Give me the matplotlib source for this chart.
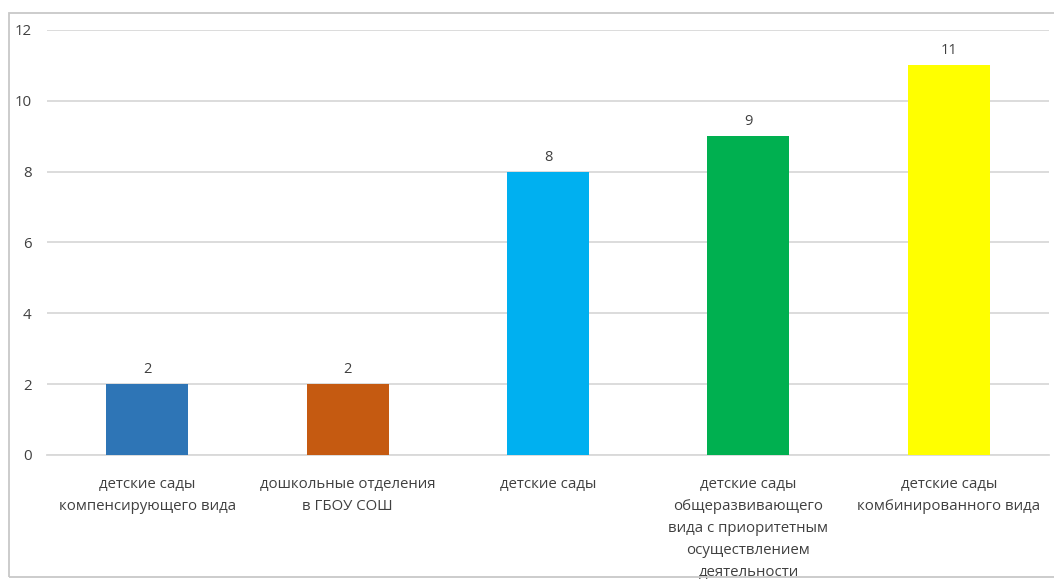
import matplotlib.pyplot as plt
from matplotlib.patches import Rectangle

# данные
categories = [
    'детские сады\nкомпенсирующего вида',
    'дошкольные отделения\nв ГБОУ СОШ',
    'детские сады',
    'детские сады\nобщеразвивающего\nвида с приоритетным\nосуществлением\nдеятельности',
    'детские сады\nкомбинированного вида',
]
values = [2, 2, 8, 9, 11]
colors = ['#2E75B6', '#C55A11', '#00B0F0', '#00B050', '#FFFF00']
yticks = [0, 2, 4, 6, 8, 10, 12]

plt.rcParams['font.family'] = ['Open Sans', 'DejaVu Sans']

fig = plt.figure(figsize=(10.54, 5.83), dpi=100)
ax = fig.add_axes([47 / 1054, 1 - 455 / 583, 1002 / 1054, 425 / 583])

x = list(range(len(categories)))
bars = ax.bar(x, values, width=0.41, color=colors, zorder=3)
for b, v in zip(bars, values):
    ax.annotate(str(v), (b.get_x() + b.get_width() / 2, v),
                xytext=(0, 5), textcoords='offset points',
                ha='center', va='bottom', fontsize=10.5, color='#404040')

ax.set_xlim(-0.5, len(categories) - 0.5)
ax.set_ylim(0, 12)
ax.set_yticks(yticks)
ax.set_xticks(x)
ax.set_xticklabels(categories, fontsize=10.8, color='#404040', linespacing=1.62)
ax.tick_params(axis='y', length=0, pad=11, labelsize=10.8, labelcolor='#404040')
ax.tick_params(axis='x', length=0, pad=16)
ax.yaxis.grid(True, color='#D9D9D9', linewidth=1.3, zorder=0)
for s in ['top', 'right', 'left']:
    ax.spines[s].set_visible(False)
ax.spines['bottom'].set_color('#D9D9D9')
ax.spines['bottom'].set_linewidth(1.3)

# рамка диаграммы
fig.patches.append(Rectangle((9 / 1054, 1 - 577 / 583), 1.1, 564 / 583,
                             transform=fig.transFigure, fill=False,
                             edgecolor='#C8C8C8', linewidth=1.3))

fig.savefig('out.png', dpi=100)
